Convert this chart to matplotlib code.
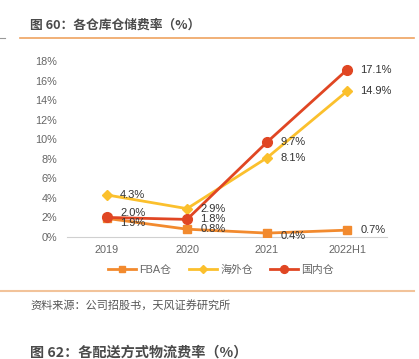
import matplotlib.pyplot as plt
from matplotlib.lines import Line2D

plt.rcParams['font.family'] = ['Liberation Sans', 'Noto Sans CJK SC', 'DejaVu Sans']

years = ["2019", "2020", "2021", "2022H1"]
fba = [1.9, 0.8, 0.4, 0.7]
overseas = [4.3, 2.9, 8.1, 14.9]
domestic = [2.0, 1.8, 9.7, 17.1]
series_names = ["FBA仓", "海外仓", "国内仓"]
yticks = [0, 2, 4, 6, 8, 10, 12, 14, 16, 18]

fig = plt.figure(figsize=(4.19, 3.59), dpi=100)
fig.patch.set_facecolor("white")

cjk = ['Noto Sans CJK SC', 'DejaVu Sans']
# header / footer decorations
fig.text(30 / 419, 1 - 25 / 359, "图 60：各仓库仓储费率（%）", fontsize=9.2,
         fontweight="bold", color="#4a4a4a", va="center", ha="left", family=cjk)
fig.add_artist(Line2D([20 / 419, 414 / 419], [1 - 38 / 359] * 2, color="#EFA360", lw=1.2))
fig.add_artist(Line2D([0, 5 / 419], [1 - 38 / 359] * 2, color="#999999", lw=0.8))
fig.add_artist(Line2D([0, 414 / 419], [1 - 291 / 359] * 2, color="#F2C39A", lw=1.5))
fig.text(30 / 419, 1 - 305 / 359, "资料来源：公司招股书，天风证券研究所", fontsize=8,
         color="#555555", va="center", ha="left", family=cjk)
fig.text(30 / 419, 1 - 353 / 359, "图 62：各配送方式物流费率（%）", fontsize=10.2,
         fontweight="bold", color="#4a4a4a", va="center", ha="left", family=cjk)

ax = fig.add_axes([67 / 419, 1 - 237 / 359, 320 / 419, 176 / 359])
x = list(range(len(years)))

c_fba, c_ov, c_dom = "#F28A2E", "#FBC02D", "#E04623"
ax.plot(x, fba, color=c_fba, lw=2, marker="s", ms=6, zorder=3, label=series_names[0])
ax.plot(x, overseas, color=c_ov, lw=2, marker="D", ms=5, zorder=4, label=series_names[1])
ax.plot(x, domestic, color=c_dom, lw=2, marker="o", ms=7, zorder=5, label=series_names[2])

for vals, dy in [(fba, [-3, 0, -2, 0]), (overseas, [0, 0, 0, 0]), (domestic, [3, 0, 0, 0])]:
    for i, v in enumerate(vals):
        ax.annotate(f"{v:.1f}%", (i, v), xytext=(9.5, dy[i]), textcoords="offset points",
                    fontsize=8, color="#333333", va="center", ha="left", zorder=6)

ax.set_xlim(-0.5, 3.5)
ax.set_ylim(0, 18)
ax.set_yticks(yticks)
ax.set_yticklabels([f"{t}%" for t in yticks])
ax.set_xticks(x)
ax.set_xticklabels(years)
ax.tick_params(axis="both", length=0, labelsize=7.8, labelcolor="#666666")
ax.tick_params(axis="y", pad=7)
ax.tick_params(axis="x", pad=6)
for s in ["top", "right", "left"]:
    ax.spines[s].set_visible(False)
ax.spines["bottom"].set_color("#D0D0D0")

leg = ax.legend(loc="center", bbox_to_anchor=(221 / 419, 1 - 270 / 359),
                bbox_transform=fig.transFigure, ncol=3, frameon=False, fontsize=7.8,
                labelcolor="#666666", handlelength=2.6, columnspacing=1.6, handletextpad=0.3,
                markerscale=0.8)
for t in leg.get_texts():
    t.set_family(['Liberation Sans', 'Noto Sans CJK SC'])

fig.savefig("out.png", dpi=100)
